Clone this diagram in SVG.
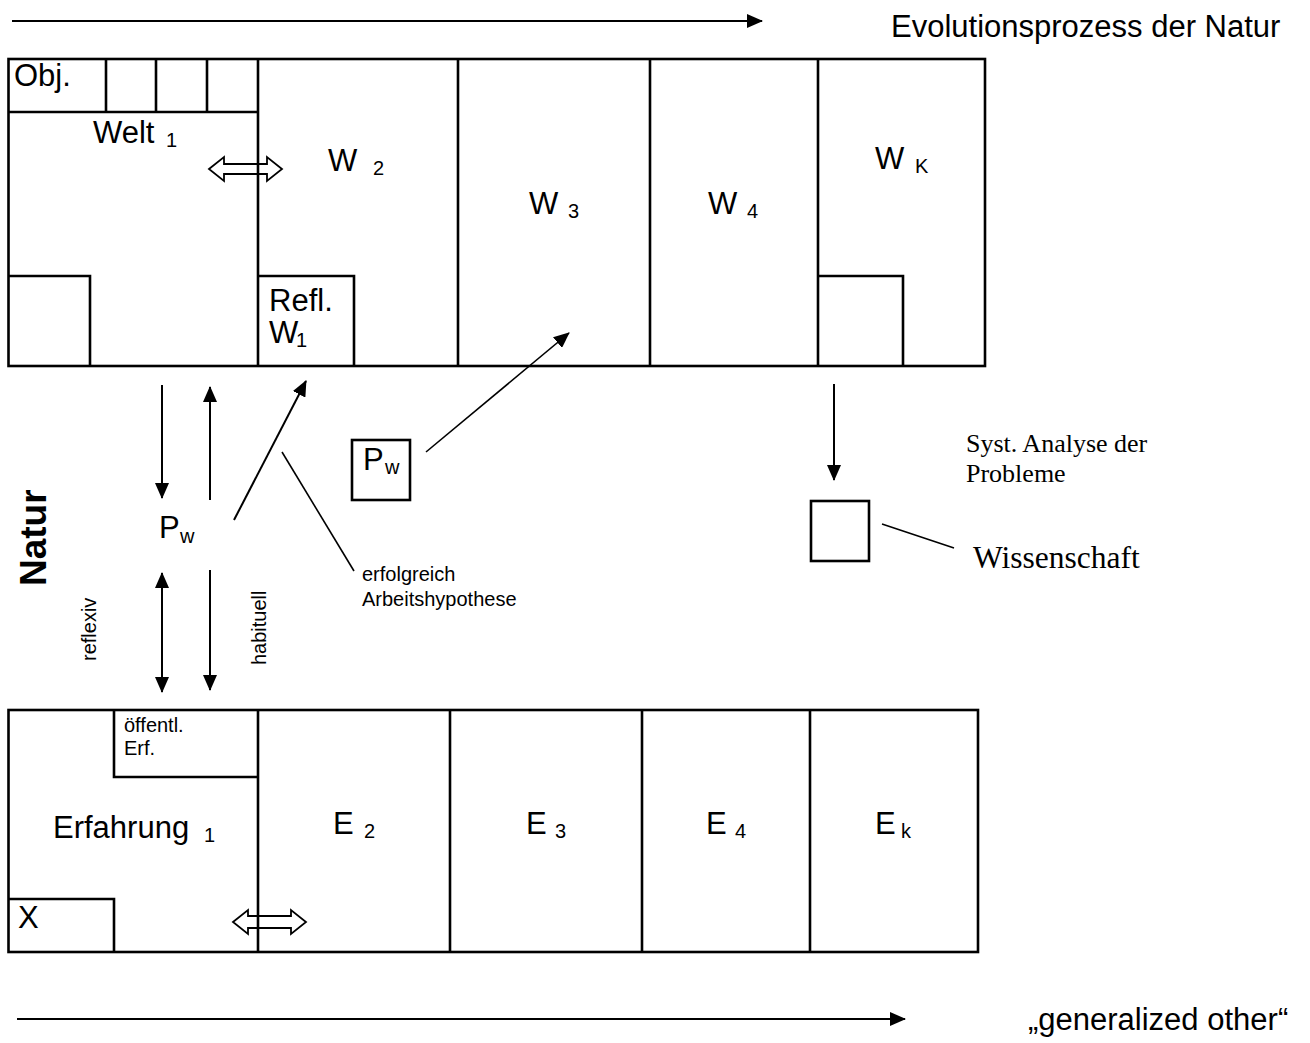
<svg xmlns="http://www.w3.org/2000/svg" width="1310" height="1043" viewBox="0 0 1310 1043">
<style>
.bx{fill:none;stroke:#000;stroke-width:2.6}
.ln{fill:none;stroke:#000;stroke-width:2.6}
.ar{fill:none;stroke:#000;stroke-width:2}
.th{fill:none;stroke:#000;stroke-width:1.6}
.hol{fill:none;stroke:#000;stroke-width:1.8;stroke-linejoin:miter}
text{font-family:"Liberation Sans",Arial,sans-serif;fill:#000}
.big{font-size:31px}
.sub{font-size:20px}
.sm{font-size:20px}
.ser{font-family:"Liberation Serif","Times New Roman",serif}
.bold{font-weight:bold}
</style>
<defs>
<marker id="ah" markerUnits="userSpaceOnUse" viewBox="0 0 16 14" markerWidth="16" markerHeight="14" refX="15" refY="7" orient="auto-start-reverse">
<path d="M0,0 L16,7 L0,14 z" fill="#000"/>
</marker>
</defs>

<g id="top-world">
<rect class="bx" x="8.5" y="59" width="976.5" height="307"/>
<line class="ln" x1="8.5" y1="112" x2="258" y2="112"/>
<line class="ln" x1="106" y1="59" x2="106" y2="112"/>
<line class="ln" x1="156" y1="59" x2="156" y2="112"/>
<line class="ln" x1="207" y1="59" x2="207" y2="112"/>
<line class="ln" x1="258" y1="59" x2="258" y2="366"/>
<line class="ln" x1="458" y1="59" x2="458" y2="366"/>
<line class="ln" x1="650" y1="59" x2="650" y2="366"/>
<line class="ln" x1="818" y1="59" x2="818" y2="366"/>
</g>
<g id="obj">
<text class="big" x="14" y="86">Obj.</text>
</g>
<g id="welt1">
<text class="big" x="93" y="143">Welt<tspan class="sub" x="166" dy="4">1</tspan></text>
<polyline class="ln" points="8.5,276 90,276 90,366"/>
</g>
<g id="w2">
<text class="big" x="328" y="171">W<tspan class="sub" x="373" dy="4">2</tspan></text>
</g>
<g id="refl-w1">
<polyline class="ln" points="258,276 354,276 354,366"/>
<text class="big" font-size="27" x="269" y="311">Refl.</text>
<text class="big" font-size="27" x="269" y="343">W<tspan class="sub" font-size="18" x="296" dy="4">1</tspan></text>
</g>
<g id="w3">
<text class="big" x="529" y="214">W<tspan class="sub" x="568" dy="4">3</tspan></text>
</g>
<g id="w4">
<text class="big" x="708" y="214">W<tspan class="sub" x="747" dy="4">4</tspan></text>
</g>
<g id="wk">
<text class="big" x="875" y="169">W<tspan class="sub" x="915" dy="4">K</tspan></text>
<polyline class="ln" points="818,276 903,276 903,366"/>
</g>

<g id="bottom-exp">
<rect class="bx" x="8.5" y="710" width="969.5" height="242"/>
<line class="ln" x1="258" y1="710" x2="258" y2="952"/>
<line class="ln" x1="450" y1="710" x2="450" y2="952"/>
<line class="ln" x1="642" y1="710" x2="642" y2="952"/>
<line class="ln" x1="810" y1="710" x2="810" y2="952"/>
</g>
<g id="oeffentl">
<polyline class="ln" points="114,710 114,777 258,777"/>
<text class="sm" x="124" y="732">öffentl.</text>
<text class="sm" x="124" y="755">Erf.</text>
</g>
<g id="erfahrung1">
<text class="big" x="53" y="838">Erfahrung<tspan class="sub" x="204" dy="4">1</tspan></text>
</g>
<g id="x-box">
<polyline class="ln" points="8.5,899 114,899 114,952"/>
<text class="big" x="18" y="928">X</text>
</g>
<g id="e2"><text class="big" x="333" y="834">E<tspan class="sub" x="364" dy="4">2</tspan></text></g>
<g id="e3"><text class="big" x="526" y="834">E<tspan class="sub" x="555" dy="4">3</tspan></text></g>
<g id="e4"><text class="big" x="706" y="834">E<tspan class="sub" x="735" dy="4">4</tspan></text></g>
<g id="ek"><text class="big" x="875" y="834">E<tspan class="sub" x="901" dy="4">k</tspan></text></g>

<g id="pw">
<text class="big" x="159" y="538">P<tspan class="sub" x="180" dy="5">w</tspan></text>
</g>
<g id="pw-box">
<rect class="bx" x="352" y="440" width="58" height="60" stroke-width="2.4"/>
<text class="big" x="363" y="470">P<tspan class="sub" x="385" dy="4">w</tspan></text>
</g>
<g id="wissenschaft-box">
<rect class="bx" x="811" y="501" width="58" height="60" stroke-width="2.2"/>
</g>

<g id="labels">
<text class="big" x="891" y="37">Evolutionsprozess der Natur</text>
<text class="big" x="1028" y="1030">„generalized other“</text>
<text class="bold" font-size="37" transform="translate(46,586) rotate(-90)">Natur</text>
<text class="sm" font-size="21" transform="translate(96,661) rotate(-90)">reflexiv</text>
<text class="sm" font-size="22" transform="translate(266,665) rotate(-90)">habituell</text>
<text class="sm" font-size="21" x="362" y="581">erfolgreich</text>
<text class="sm" font-size="21" x="362" y="606">Arbeitshypothese</text>
<text class="ser" font-size="26" x="966" y="452">Syst. Analyse der</text>
<text class="ser" font-size="26" x="966" y="482">Probleme</text>
<text class="ser" font-size="31.5" x="973" y="568">Wissenschaft</text>
</g>

<g id="connectors">
<line class="ar" x1="12" y1="21" x2="762" y2="21" marker-end="url(#ah)"/>
<line class="ar" x1="17" y1="1019" x2="905" y2="1019" marker-end="url(#ah)"/>
<line class="ar" x1="162" y1="385" x2="162" y2="498" marker-end="url(#ah)"/>
<line class="ar" x1="210" y1="500" x2="210" y2="387" marker-end="url(#ah)"/>
<line class="ar" x1="234" y1="520" x2="306" y2="381" marker-end="url(#ah)"/>
<line class="th" x1="282" y1="452" x2="354" y2="571"/>
<line class="th" x1="426" y1="452" x2="569" y2="333" marker-end="url(#ah)"/>
<line class="ar" x1="162" y1="573" x2="162" y2="692" marker-start="url(#ah)" marker-end="url(#ah)"/>
<line class="ar" x1="210" y1="570" x2="210" y2="690" marker-end="url(#ah)"/>
<line class="ar" x1="834" y1="384" x2="834" y2="480" marker-end="url(#ah)"/>
<line class="th" x1="882" y1="524" x2="954" y2="548"/>
<polygon class="hol" points="209,169 224,157 224,164 267,164 267,157 282,169 267,181 267,174 224,174 224,181"/>
<polygon class="hol" points="233,922 248,910 248,916 291,916 291,910 306,922 291,934 291,928 248,928 248,934"/>
</g>
</svg>
